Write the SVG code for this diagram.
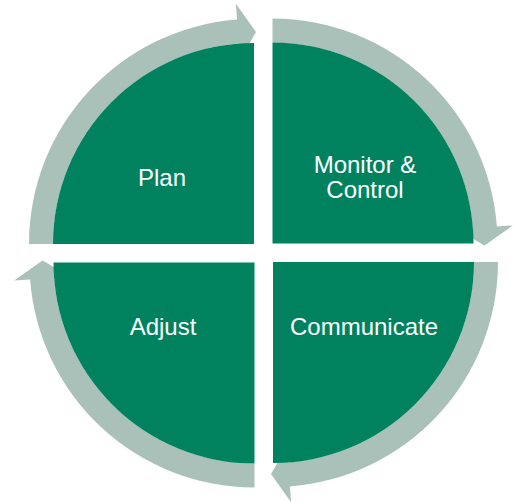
<svg xmlns="http://www.w3.org/2000/svg" xmlns:xlink="http://www.w3.org/1999/xlink" width="514" height="503" viewBox="0 0 514 503">
  <style>
    .sector { fill: #00825f; }
    .arrow { fill: #a9c1b8; }
    .label { font-family: "Liberation Sans", Arial, sans-serif; font-size: 24px; fill: #ffffff; text-anchor: middle; }
  </style>
  <defs>
    <path id="sectorShape" d="M254,244 L53,244 A201,201 0 0 1 254,43 Z"/>
    <path id="arrowShape" d="M29,244 A225,225 0 0 1 237.1,19.6 L235.9,3.7 L256,32 L240.1,59.5 L238.9,43.6 A201,201 0 0 0 53,244 Z"/>
  </defs>
  <rect width="514" height="503" fill="#ffffff"/>
  <g id="connectors">
    <use xlink:href="#arrowShape" href="#arrowShape" class="arrow"/>
    <use xlink:href="#arrowShape" href="#arrowShape" class="arrow" transform="rotate(90 263.5 253)"/>
    <use xlink:href="#arrowShape" href="#arrowShape" class="arrow" transform="rotate(180 263.5 253)"/>
    <use xlink:href="#arrowShape" href="#arrowShape" class="arrow" transform="rotate(270 263.5 253)"/>
  </g>
  <g id="plan">
    <use xlink:href="#sectorShape" href="#sectorShape" class="sector"/>
    <text class="label" x="162" y="186">Plan</text>
  </g>
  <g id="monitor-control">
    <use xlink:href="#sectorShape" href="#sectorShape" class="sector" transform="rotate(90 263.5 253)"/>
    <text class="label" x="365" y="173">Monitor &amp;</text>
    <text class="label" x="365" y="198">Control</text>
  </g>
  <g id="communicate">
    <use xlink:href="#sectorShape" href="#sectorShape" class="sector" transform="rotate(180 263.5 253)"/>
    <text class="label" x="364" y="335">Communicate</text>
  </g>
  <g id="adjust">
    <use xlink:href="#sectorShape" href="#sectorShape" class="sector" transform="rotate(270 263.5 253)"/>
    <text class="label" x="163" y="335">Adjust</text>
  </g>
</svg>
